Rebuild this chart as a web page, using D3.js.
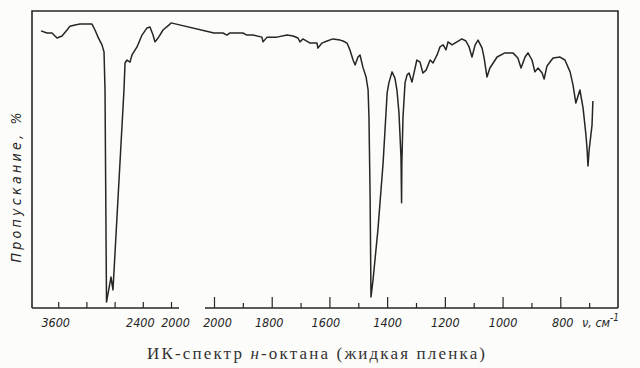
<!DOCTYPE html>
<html>
<head>
<meta charset="utf-8">
<script src="https://cdn.jsdelivr.net/npm/d3@7"></script>
<style>
  body { margin: 0; background: #fcfcfa; }
  svg { display: block; }
  .lbl { font-family: "DejaVu Sans", sans-serif; font-stretch: condensed; font-style: oblique; }
</style>
</head>
<body>
<svg id="chart" width="640" height="368"></svg>
<script>
// wavenumber (cm-1) and transmission (%), left part of the chart (4000-2000 scale)
const leftNu = [3844, 3759, 3688, 3617, 3546, 3475, 3433, 3362, 3291, 3191, 3121, 3078, 3035, 2979, 2950, 2936,
  2915, 2851, 2823, 2667, 2652, 2624, 2582, 2553, 2482, 2411, 2340, 2298, 2255, 2227, 2184, 2113, 2014, 2000];
const leftT = [93.3, 92.6, 92.6, 90.9, 91.6, 93.6, 94.9, 95.3, 95.6, 95.6, 95.6, 93.6, 91.2, 88.6, 86.2, 73.4,
  2.0, 10.4, 6.1, 73.4, 82.5, 83.5, 82.8, 85.2, 87.9, 91.9, 94.3, 94.6, 91.9, 89.6, 90.9, 93.6, 95.6, 96.0];

// right part of the chart (2000-600 scale)
const rightNu = [2000, 1969, 1955, 1945, 1920, 1900, 1886, 1865, 1834, 1830, 1816, 1782, 1747, 1726, 1709, 1702,
  1692, 1667, 1643, 1640, 1626, 1608, 1588, 1563, 1553, 1539, 1529, 1518, 1511, 1501, 1494, 1484, 1473, 1466,
  1463, 1459, 1456, 1449, 1432, 1414, 1400, 1394, 1383, 1373, 1366, 1359, 1352, 1350, 1349, 1345, 1338, 1331,
  1324, 1314, 1310, 1297, 1286, 1276, 1265, 1251, 1241, 1227, 1217, 1206, 1196, 1189, 1175, 1158, 1141, 1127,
  1116, 1106, 1095, 1085, 1071, 1064, 1054, 1044, 1019, 992, 964, 947, 936, 922, 912, 898, 888, 877, 863, 856,
  846, 825, 801, 784, 766, 756, 746, 732, 721, 711, 707, 704, 700, 690, 687];
const rightT = [92.6, 92.6, 91.9, 92.6, 92.6, 92.6, 91.9, 91.9, 91.2, 89.6, 91.2, 91.2, 91.9, 91.6, 90.9, 89.6,
  90.6, 89.2, 89.2, 87.5, 89.2, 89.9, 90.6, 90.2, 89.9, 89.2, 86.9, 83.5, 81.8, 84.5, 85.2, 81.1, 77.8, 73.4,
  64.3, 37.4, 3.7, 9.4, 26.3, 48.8, 72.4, 75.8, 79.5, 77.4, 73.4, 65.7, 50.8, 35.4, 48.8, 64.3, 75.8, 78.5,
  79.1, 76.1, 77.8, 83.5, 82.8, 79.1, 80.1, 83.5, 82.5, 85.2, 87.9, 88.6, 86.9, 89.6, 88.6, 89.6, 90.6, 89.9,
  87.9, 84.5, 88.6, 90.2, 87.5, 84.2, 77.8, 80.8, 84.5, 85.9, 85.9, 84.2, 80.8, 84.5, 85.9, 83.5, 79.5, 80.8, 79.1, 77.1,
  81.5, 84.2, 84.5, 83.5, 79.5, 75.1, 69.0, 73.4, 67.3, 58.2, 53.2, 47.8, 53.2, 61.6, 69.7];

const leftTicks = [3600, 3200, 2800, 2400, 2000];
const leftLabels = [3600, 2400, 2000];
const rightTicks = [2000, 1900, 1800, 1700, 1600, 1500, 1400, 1300, 1200, 1100, 1000, 900, 800, 700];
const rightLabels = [2000, 1800, 1600, 1400, 1200, 1000, 800];

const yLabel = "Пропускание, %";
const caption = "ИК-спектр н-октана (жидкая пленка)";

const svg = d3.select("#chart");
const ink = "#262626";

const xLeft = d3.scaleLinear().domain([4000, 2000]).range([30, 171]);
const xRight = d3.scaleLinear().domain([2000, 600]).range([214, 618]);
const y = d3.scaleLinear().domain([0, 100]).range([308, 11]);

const frameLeft = 32;
const frameRight = xRight(600);
const axisY = y(0);

// frame
svg.append("path")
  .attr("d", `M${frameLeft},${axisY} V${y(100)} H${frameRight} V${axisY}`)
  .attr("fill", "none")
  .attr("stroke", ink)
  .attr("stroke-width", 1.6);

// broken bottom axis
svg.append("line").attr("x1", frameLeft).attr("x2", 179).attr("y1", axisY).attr("y2", axisY)
  .attr("stroke", ink).attr("stroke-width", 1.3);
svg.append("line").attr("x1", 205).attr("x2", frameRight).attr("y1", axisY).attr("y2", axisY)
  .attr("stroke", ink).attr("stroke-width", 1.3);

// inward ticks
const gTickL = svg.append("g").attr("transform", `translate(0,${axisY})`)
  .call(d3.axisTop(xLeft).tickValues(leftTicks).tickSize(6).tickFormat(""));
const gTickR = svg.append("g").attr("transform", `translate(0,${axisY})`)
  .call(d3.axisTop(xRight).tickValues(rightTicks).tickFormat("")
    .tickSize(5));
gTickR.selectAll(".tick line").attr("y2", d => (d % 200 === 0 ? -11 : -5));
[gTickL, gTickR].forEach(g => {
  g.select(".domain").remove();
  g.selectAll(".tick line").attr("stroke", ink).attr("stroke-width", 1.2);
});

// tick labels
const fmt = d3.format("d");
const gLabL = svg.append("g").attr("transform", `translate(0,${axisY})`)
  .call(d3.axisBottom(xLeft).tickValues(leftLabels).tickSize(0).tickPadding(10).tickFormat(fmt));
const gLabR = svg.append("g").attr("transform", `translate(0,${axisY})`)
  .call(d3.axisBottom(xRight).tickValues(rightLabels).tickSize(0).tickPadding(10).tickFormat(fmt));
[gLabL, gLabR].forEach(g => {
  g.attr("font-family", null).attr("font-size", null);
  g.select(".domain").remove();
  g.selectAll("text")
    .attr("class", "lbl")
    .attr("fill", ink)
    .style("font-size", "12.5px");
});
gLabL.selectAll("text").attr("dx", d => (d === 3600 ? -3 : d === 2400 ? -3 : 4));
gLabR.selectAll("text").attr("dx", d => (d === 2000 ? 3 : d === 1800 ? -3 : d === 1600 ? -4 : d === 800 ? 2 : 0));

// unit
const unit = svg.append("text")
  .attr("class", "lbl")
  .attr("x", 582).attr("y", 327)
  .attr("fill", ink)
  .style("font-size", "12.5px");
unit.append("tspan").text("ν, см");
unit.append("tspan").attr("dy", -6).style("font-size", "10px").text("-1");

// y label
svg.append("text")
  .attr("class", "lbl")
  .attr("transform", `translate(21,${(113 + 262) / 2}) rotate(-90)`)
  .attr("text-anchor", "middle")
  .attr("textLength", 150)
  .attr("lengthAdjust", "spacing")
  .attr("fill", ink)
  .style("font-size", "14px")
  .text(yLabel);

// caption
const cap = svg.append("text")
  .attr("x", 316).attr("y", 359)
  .attr("text-anchor", "middle")
  .attr("textLength", 338)
  .attr("lengthAdjust", "spacing")
  .attr("fill", "#333")
  .attr("font-family", "'Liberation Serif', 'DejaVu Serif', serif")
  .attr("font-size", 17);
cap.append("tspan").text("ИК-спектр ");
cap.append("tspan").attr("font-style", "italic").text("н");
cap.append("tspan").text("-октана (жидкая пленка)");

// spectrum
const points = leftNu.map((nu, i) => [xLeft(nu), y(leftT[i])])
  .concat(rightNu.map((nu, i) => [xRight(nu), y(rightT[i])]));

svg.append("path")
  .datum(points)
  .attr("fill", "none")
  .attr("stroke", ink)
  .attr("stroke-width", 1.5)
  .attr("stroke-linejoin", "round")
  .attr("d", d3.line());
</script>
</body>
</html>
